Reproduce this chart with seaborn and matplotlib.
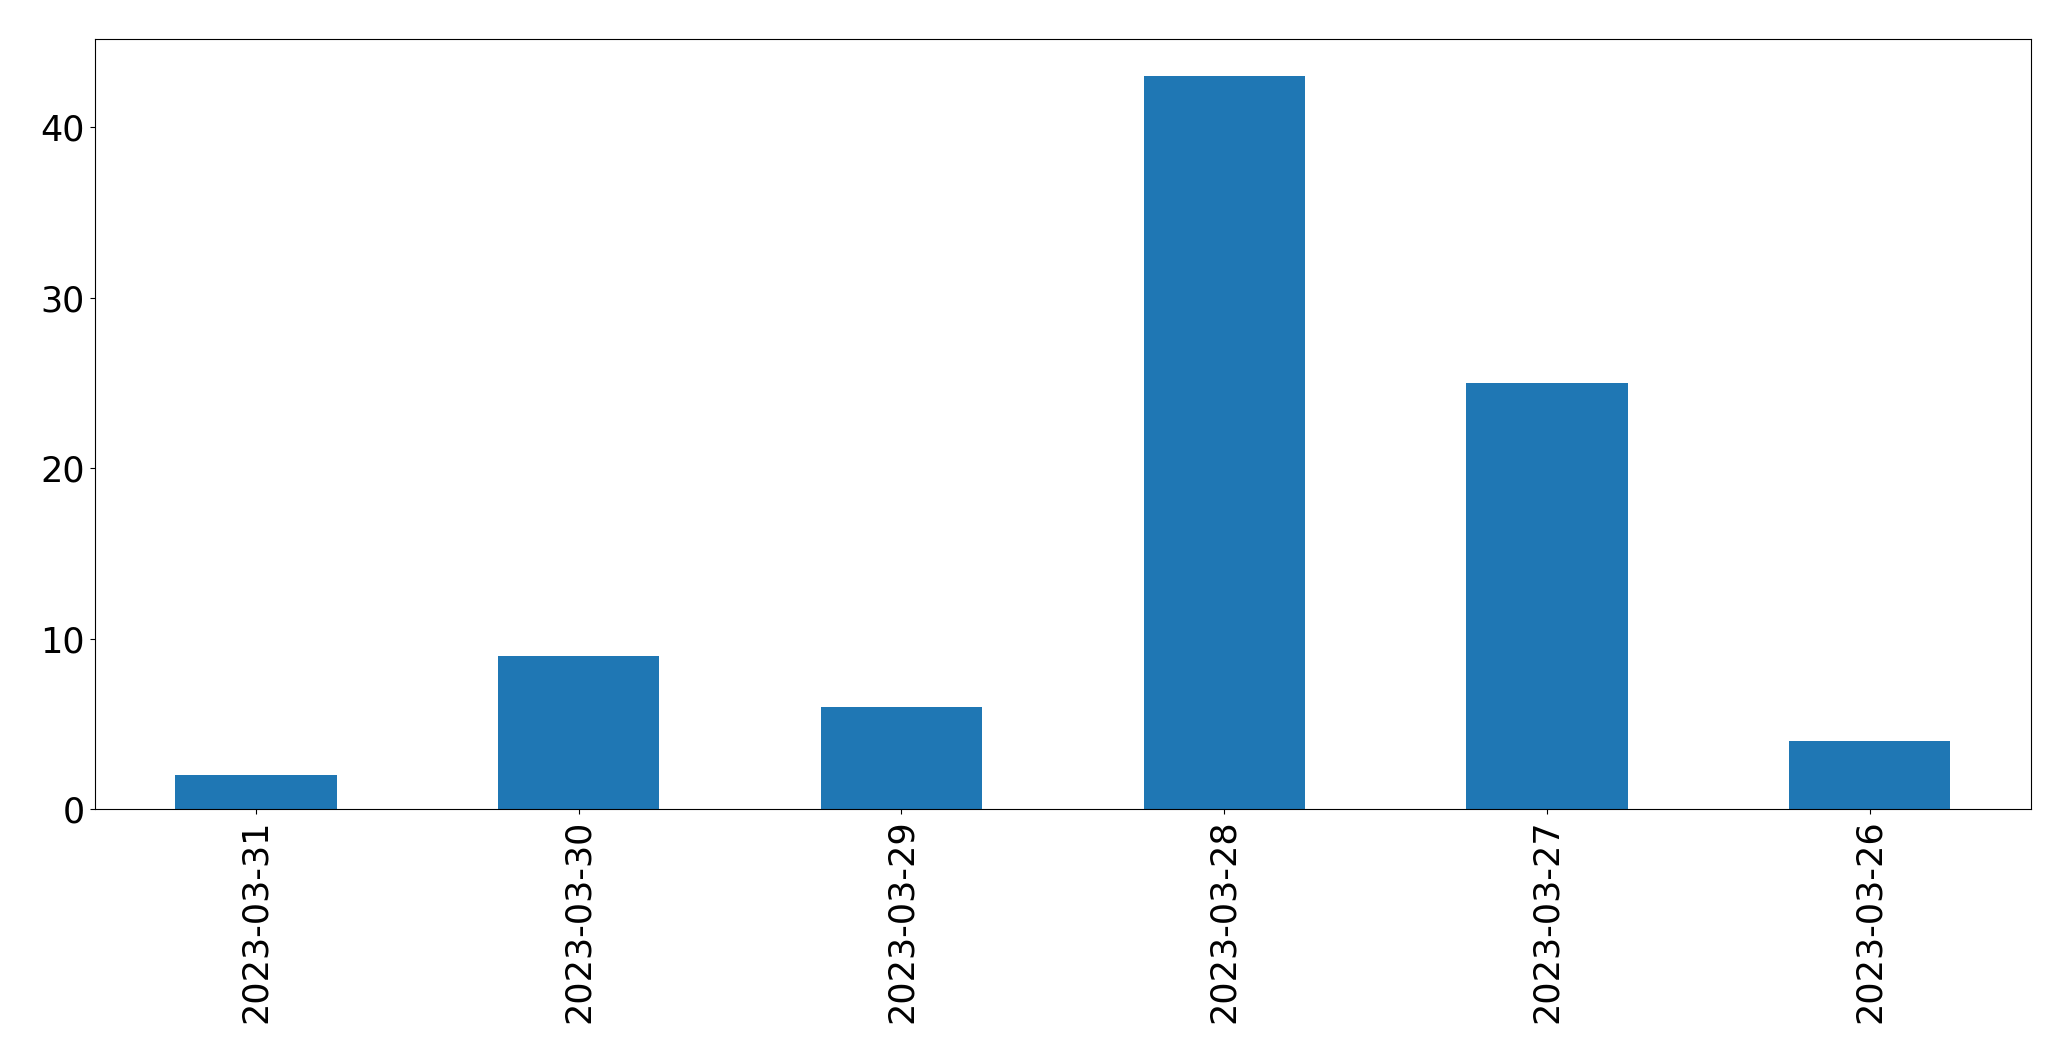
import numpy as np
import pandas as pd
import matplotlib
matplotlib.use('Agg')
import matplotlib.pyplot as plt
import seaborn as sns

# 数据
dates = ['2023-03-31', '2023-03-30', '2023-03-29', '2023-03-28', '2023-03-27', '2023-03-26']
counts = [2, 9, 6, 43, 25, 4]

df = pd.DataFrame({'date': dates, 'count': counts})

plt.rcParams['font.family'] = ['DejaVu Sans']
plt.rcParams['xtick.major.size'] = 3.8
plt.rcParams['ytick.major.size'] = 3.8

fig = plt.figure(figsize=(20.71, 10.61), dpi=100)
ax = fig.add_axes([0.0457, 0.2375, 0.935, 0.7255])

sns.barplot(data=df, x='date', y='count', order=dates, color='#1f77b4',
            saturation=1, width=0.5, linewidth=0, ax=ax)

ax.set_xlim(-0.5, len(dates) - 0.5)
ax.set_ylim(0, max(counts) * 1.05)
ax.set_xlabel('')
ax.set_ylabel('')
ax.tick_params(axis='both', labelsize=25.2)
ax.tick_params(axis='x', labelrotation=90)

fig.savefig('out.png', dpi=100)
